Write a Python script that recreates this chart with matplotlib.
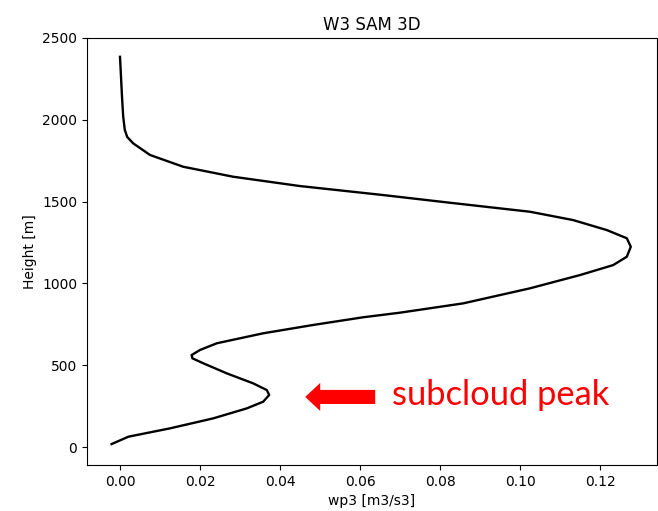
import matplotlib
matplotlib.use("Agg")
import matplotlib.pyplot as plt
from matplotlib.patches import FancyArrow

height = [18, 63, 114, 175, 236, 277, 318, 348, 389, 450, 512, 542, 562, 593, 634,
          695, 746, 793, 821, 878, 970, 1051, 1112, 1163, 1224, 1276, 1326, 1387,
          1438, 1493, 1540, 1595, 1652, 1713, 1785, 1856, 1895, 1938, 2020, 2141, 2385]
wp3 = [-0.0021, 0.0021, 0.0125, 0.0233, 0.0317, 0.0358, 0.0373, 0.0367, 0.0333,
       0.0267, 0.0208, 0.0181, 0.0179, 0.0200, 0.0242, 0.0358, 0.0483, 0.0608,
       0.0700, 0.0858, 0.1025, 0.1150, 0.1233, 0.1267, 0.1277, 0.1267, 0.1217,
       0.1133, 0.1025, 0.0825, 0.0658, 0.0450, 0.0283, 0.0158, 0.0075, 0.0033,
       0.0018, 0.0012, 0.0008, 0.0005, 0.0]

fig = plt.figure(figsize=(6.58, 5.11), dpi=100)
ax = fig.add_axes([87/658, 1-465/511, (657-87)/658, (465-38)/511])
ax.plot(wp3, height, color='black', lw=1.7)
ax.set_xlim(-0.00825, 0.13425)
ax.set_ylim(-110, 2500)
ax.set_xticks([0.0, 0.02, 0.04, 0.06, 0.08, 0.10, 0.12])
ax.set_yticks([0, 500, 1000, 1500, 2000, 2500])
ax.set_xlabel('wp3 [m3/s3]')
ax.set_ylabel('Height [m]')
ax.set_title('W3 SAM 3D')

arrow = FancyArrow(0.0638, 306, -0.0175 + 0.00375, 0, width=86, head_width=171,
                   head_length=0.00375, length_includes_head=False,
                   color='red', lw=0)
ax.add_patch(arrow)
ax.text(0.0680, 318, 'subcloud peak', color='red', fontsize=24.8,
        family=['Lato', 'DejaVu Sans'], va='center', ha='left')

fig.savefig('out.png', dpi=100)
